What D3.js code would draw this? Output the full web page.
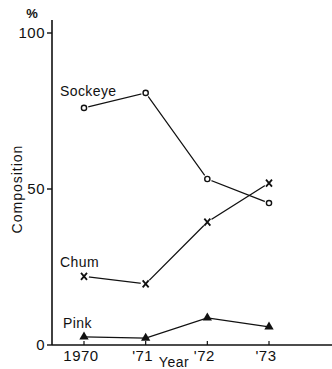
<!DOCTYPE html>
<html>
<head>
<meta charset="utf-8">
<script src="https://d3js.org/d3.v7.min.js"></script>
<style>
  body { margin: 0; background: #fff; }
  svg text { font-family: "Liberation Sans", Arial, sans-serif; fill: #111; }
</style>
</head>
<body>
<div id="chart"></div>
<script>
// Salmon species composition by year
const years = [1970, 1971, 1972, 1973];
const yearLabels = ["1970", "'71", "'72", "'73"];
const sockeye = [76, 80.8, 53.2, 45.5];
const chum = [22, 19.6, 39.4, 51.9];
const pink = [2.6, 2.2, 8.7, 5.8];
const yTicks = [0, 50, 100];

const width = 332, height = 369;
const x0 = 52, xEnd = 332, yBase = 345, yTop = 20;

const svg = d3.select('#chart').append('svg')
  .attr('width', width)
  .attr('height', height);

const x = d3.scaleLinear().domain([1970, 1973]).range([84, 269]);
const y = d3.scaleLinear().domain([0, 100]).range([yBase, 33]);

const ink = '#111';

// axes lines
svg.append('line')
  .attr('x1', x0).attr('x2', x0).attr('y1', yTop).attr('y2', yBase)
  .attr('stroke', ink).attr('stroke-width', 1.6);
svg.append('line')
  .attr('x1', x0).attr('x2', xEnd).attr('y1', yBase).attr('y2', yBase)
  .attr('stroke', ink).attr('stroke-width', 1.6);

// y ticks
const yAxis = svg.append('g');
yTicks.forEach(t => {
  yAxis.append('line')
    .attr('x1', x0 - 5).attr('x2', x0).attr('y1', y(t)).attr('y2', y(t))
    .attr('stroke', ink).attr('stroke-width', 1.4);
  yAxis.append('text')
    .attr('x', x0 - 7)
    .attr('y', y(t) + 5)
    .attr('text-anchor', 'end')
    .style('font-size', '15px')
    .style('letter-spacing', '0.5px')
    .text(t);
});

svg.append('text')
  .attr('x', 32).attr('y', 18)
  .attr('text-anchor', 'middle')
  .style('font-size', '13px')
  .style('font-weight', 'bold')
  .text('%');

svg.append('text')
  .attr('transform', 'translate(22,189) rotate(-90)')
  .attr('text-anchor', 'middle')
  .style('font-size', '14px')
  .style('letter-spacing', '1px')
  .text('Composition');

// x ticks
const xAxis = svg.append('g');
years.forEach((yr, i) => {
  xAxis.append('line')
    .attr('x1', x(yr)).attr('x2', x(yr)).attr('y1', yBase).attr('y2', yBase - 4)
    .attr('stroke', ink).attr('stroke-width', 1.2);
  xAxis.append('text')
    .attr('x', x(yr) - 3)
    .attr('y', 361)
    .attr('text-anchor', 'middle')
    .style('font-size', '15px')
    .style('letter-spacing', '0.5px')
    .text(yearLabels[i]);
});

svg.append('text')
  .attr('x', 174).attr('y', 367)
  .attr('text-anchor', 'middle')
  .style('font-size', '14px')
  .style('letter-spacing', '0.5px')
  .text('Year');

// series
const line = d3.line()
  .x((d, i) => x(years[i]))
  .y(d => y(d));

function drawSeries(values, marker) {
  const g = svg.append('g');
  g.append('path')
    .attr('d', line(values))
    .attr('fill', 'none')
    .attr('stroke', ink)
    .attr('stroke-width', 1.3);
  values.forEach((v, i) => {
    const cx = x(years[i]), cy = y(v);
    if (marker === 'circle') {
      g.append('circle').attr('cx', cx).attr('cy', cy).attr('r', 4.5).attr('fill', '#fff');
      g.append('circle').attr('cx', cx).attr('cy', cy).attr('r', 2.6)
        .attr('fill', '#fff').attr('stroke', ink).attr('stroke-width', 1.4);
    } else if (marker === 'cross') {
      g.append('circle').attr('cx', cx).attr('cy', cy).attr('r', 5).attr('fill', '#fff');
      g.append('path')
        .attr('d', `M${cx - 3},${cy - 3.5}L${cx + 3},${cy + 3.5}M${cx + 3},${cy - 3.5}L${cx - 3},${cy + 3.5}`)
        .attr('stroke', ink).attr('stroke-width', 1.8);
    } else {
      g.append('path')
        .attr('d', d3.symbol().type(d3.symbolTriangle).size(38)())
        .attr('transform', `translate(${cx},${cy})`)
        .attr('fill', ink);
    }
  });
}

drawSeries(sockeye, 'circle');
drawSeries(chum, 'cross');
drawSeries(pink, 'triangle');

// series labels
const labels = [
  { text: 'Sockeye', x: 60, y: 96 },
  { text: 'Chum', x: 60, y: 267 },
  { text: 'Pink', x: 63, y: 328 }
];
labels.forEach(l => {
  svg.append('text')
    .attr('x', l.x).attr('y', l.y)
    .style('font-size', '14px')
    .style('letter-spacing', '0.4px')
    .text(l.text);
});
</script>
</body>
</html>
